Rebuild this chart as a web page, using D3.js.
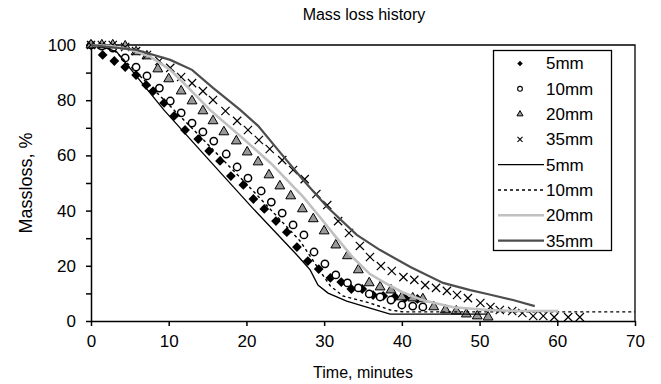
<!DOCTYPE html>
<html>
<head>
<meta charset="utf-8">
<script src="https://cdn.jsdelivr.net/npm/d3@7"></script>
<style>
  body { margin: 0; background: #fff; }
  text { font-family: "Liberation Sans", Arial, sans-serif; fill: #000; }
</style>
</head>
<body>
<div id="chart"></div>
<script>
// measured points (time in minutes, massloss in %)
const dots5 = [[0,100],[1.5,96.4],[3,94.2],[4.4,92],[5.8,89.1],[7.1,85.5],[8,83.3],[9.4,79],[10.7,74.3],[12.1,69.2],
  [13.8,65.9],[15.2,61.6],[16.6,58],[18,52.5],[19.6,49.3],[20.9,44.2],[22.3,40.6],[23.8,36.2],[25.2,32.2],[26.5,26.8],
  [27.9,21.7],[29.3,18.8],[30.8,15.6],[32.2,14.1],[33.5,11.6],[34.9,11.6],[36.3,9.4],[37.6,9.1],[39.1,8.7],[40.4,8.3],[42,8]];
const dots10 = [[0,100],[1.4,99.6],[2.8,98.9],[4.4,95.3],[5.8,92],[7.2,88.8],[8.8,84.4],[10.2,79.7],[11.6,75.4],[13,71.7],
  [14.4,68.5],[15.8,65.2],[17.4,60.5],[18.8,55.8],[20.2,51.8],[21.9,47.1],[23.2,43.1],[24.6,39.1],[26,34.8],[27.4,31.2],
  [28.7,25],[30.1,20.7],[31.5,16.7],[33,13.8],[34.4,12],[35.8,9.8],[37.2,8.7],[38.6,7.6],[40,5.8],[41.4,5.4],[42.7,5.1]];
const dots20 = [[0,100],[1.4,100],[2.8,100],[4.4,99.6],[5.8,97.5],[7.2,96],[8.6,91.3],[10,87.7],[11.6,83.3],[13,79.7],
  [14.4,76.1],[15.7,72.5],[17.1,68.5],[18.7,65.2],[20.1,61.2],[21.5,57.6],[22.9,52.9],[24.3,48.9],[25.7,45.3],[27.2,40.6],
  [28.6,37],[30,32.6],[31.5,27.5],[33,23.6],[34.4,18.5],[35.8,13.8],[37.2,12.3],[38.6,11.2],[40,8.7],[41.4,8.3],[42.7,8],
  [44.1,5.1],[45.6,4],[47,3.6],[48.3,2.5],[49.7,1.8],[51.1,1.4]];
const dots35 = [[0,100],[1.4,100],[2.8,100],[4.4,99.3],[5.8,97.8],[7.2,96.4],[8.8,94.2],[10.2,91.7],[11.6,88.4],[13,86.2],
  [14.4,83.3],[15.7,80.1],[17.3,76.1],[18.8,72.5],[20.2,69.2],[21.6,65.6],[23,62.3],[24.6,58.3],[26,54.7],[27.5,51.4],
  [29,46],[30.4,42],[31.8,36.2],[33.2,31.9],[34.6,27.2],[35.9,23.2],[37.3,19.9],[38.7,18.1],[40.2,15.9],[41.6,14.9],
  [43,13],[44.4,12],[45.8,10.9],[47.1,9.4],[48.5,8.3],[50.1,6.5],[51.4,5.1],[52.6,4],[54.2,3.6],[55.5,2.9],[56.9,1.8],
  [58.2,1.8],[59.6,1.4],[61.4,1.4],[62.9,1.4]];

// model curves
const line5 = [[0,100],[1.5,99.3],[3.3,97.5],[9.4,76.4],[15.2,58.3],[20.8,40.9],[26.5,23.9],[28.2,18.5],[29.2,13],
  [30.5,10.1],[32.9,7.2],[35.9,4.7],[38.5,2.5],[51,2.5]];
const line10 = [[0,100],[1.4,99.6],[3.1,97.8],[8.9,81.5],[14,67],[20.5,48.2],[26.9,29],[29.2,19.2],[30.8,12.7],
  [32.4,9.1],[35.9,6.5],[38.5,4],[40.2,3.3],[70,3.3]];
const line20 = [[0,100],[2.5,99.6],[5,98.4],[7.6,95.8],[10.2,91],[12.7,84],[15.3,76.5],[19.2,67],[23.2,57],
  [27.3,45],[29.5,37.5],[31.5,30.5],[33.7,23],[35.9,17],[38,13.5],[40,10.5],[42.7,7.5],[46.6,5],[51,4],[55.2,3.6],[60.1,3.6]];
const line35 = [[0,100],[5.9,98.2],[10.2,94.6],[13,91],[15.7,84.5],[19.2,76.5],[21.5,70.7],[24.3,61.2],[27.3,51.1],
  [30.4,41.3],[34.2,31.2],[37.2,25.7],[41.1,19.6],[45.3,13.8],[48.8,11.2],[51,9.8],[54.3,7.6],[57.1,5.4]];

const legendNames = ["5mm", "10mm", "20mm", "35mm"];
const xTicks = [0, 10, 20, 30, 40, 50, 60, 70];
const yTicks = [0, 10, 20, 30, 40, 50, 60, 70, 80, 90, 100];

const w = 661, h = 384;
const pLeft = 91, pRight = 635, pTop = 45, pBottom = 321;

const svg = d3.select("#chart").append("svg")
  .attr("width", w).attr("height", h);

const x = d3.scaleLinear().domain([0, 70]).range([pLeft, pRight]);
const y = d3.scaleLinear().domain([0, 100]).range([pBottom, pTop]);

// plot frame (top + right)
svg.append("path")
  .attr("d", `M${pLeft},${pTop}H${pRight}V${pBottom}`)
  .attr("fill", "none").attr("stroke", "#000").attr("stroke-width", 1.3);

const xAxis = d3.axisBottom(x).tickValues(xTicks).tickSize(5).tickSizeOuter(0).tickPadding(9);
const gx = svg.append("g").attr("transform", `translate(0,${pBottom})`).call(xAxis);
const yAxis = d3.axisLeft(y).tickValues(yTicks).tickSize(5).tickSizeOuter(0).tickPadding(10)
  .tickFormat(d => d % 20 === 0 ? d : "");
const gy = svg.append("g").attr("transform", `translate(${pLeft},0)`).call(yAxis);
[gx, gy].forEach(g => {
  g.selectAll("path,line").attr("stroke", "#000").attr("stroke-width", 1.5);
  g.selectAll("text").attr("font-size", 17).attr("font-family", "Liberation Sans, Arial, sans-serif");
});

// marker styles
const styles = [
  {type: d3.symbolSquare, size: 48, rot: 45, fill: "#000", stroke: "none", sw: 0},
  {type: d3.symbolCircle, size: 42, rot: 0, fill: "#fff", stroke: "#000", sw: 1.5},
  {type: d3.symbolTriangle, size: 42, rot: 0, fill: "#999", stroke: "#000", sw: 1},
  {type: d3.symbolTimes, size: 46, rot: 0, fill: "none", stroke: "#000", sw: 1.2}
];
const dotSets = [dots5, dots10, dots20, dots35];

dotSets.forEach((set, i) => {
  const s = styles[i];
  svg.append("g").selectAll("path")
    .data(set)
    .enter()
    .append("path")
    .attr("d", d3.symbol().type(s.type).size(s.size))
    .attr("transform", d => `translate(${x(d[0])},${y(d[1])}) rotate(${s.rot})`)
    .attr("fill", s.fill).attr("stroke", s.stroke).attr("stroke-width", s.sw);
});

const lineStyles = [
  {stroke: "#000", sw: 1.3, dash: null},
  {stroke: "#000", sw: 1.4, dash: "3,3"},
  {stroke: "#c0c0c0", sw: 2.6, dash: null},
  {stroke: "#4d4d4d", sw: 2.2, dash: null}
];
const lineSets = [line5, line10, line20, line35];
const line = d3.line().x(d => x(d[0])).y(d => y(d[1]));

lineSets.forEach((set, i) => {
  const s = lineStyles[i];
  svg.append("path")
    .datum(set)
    .attr("d", line)
    .attr("fill", "none")
    .attr("stroke", s.stroke).attr("stroke-width", s.sw)
    .attr("stroke-dasharray", s.dash);
});

// legend
const lg = svg.append("g");
lg.append("rect").attr("x", 493.5).attr("y", 50.5).attr("width", 118).attr("height", 200)
  .attr("fill", "#fff").attr("stroke", "#000").attr("stroke-width", 1.3);
const rowY = i => 63.5 + i * 25.3;
const legendSmall = [15, 18, 16, 18];
legendNames.forEach((name, i) => {
  const s = styles[i];
  lg.append("path")
    .attr("d", d3.symbol().type(s.type).size(legendSmall[i]))
    .attr("transform", `translate(520,${rowY(i)}) rotate(${s.rot})`)
    .attr("fill", s.fill).attr("stroke", s.stroke).attr("stroke-width", Math.min(s.sw, 1.1));
  lg.append("text").attr("x", 546).attr("y", rowY(i)).attr("dy", "0.35em")
    .attr("font-size", 17).text(name);
});
legendNames.forEach((name, i) => {
  const s = lineStyles[i];
  const yy = rowY(i + 4);
  lg.append("line").attr("x1", 498).attr("x2", 544).attr("y1", yy).attr("y2", yy)
    .attr("stroke", s.stroke).attr("stroke-width", s.sw).attr("stroke-dasharray", s.dash);
  lg.append("text").attr("x", 546).attr("y", yy).attr("dy", "0.35em")
    .attr("font-size", 17).text(name);
});

// titles
svg.append("text").attr("x", 364).attr("y", 20).attr("text-anchor", "middle")
  .attr("font-size", 16).text("Mass loss history");
svg.append("text").attr("x", 363).attr("y", 378).attr("text-anchor", "middle")
  .attr("font-size", 16).text("Time, minutes");
svg.append("text").attr("transform", "translate(32,183) rotate(-90)").attr("text-anchor", "middle")
  .attr("font-size", 18).text("Massloss, %");
</script>
</body>
</html>
